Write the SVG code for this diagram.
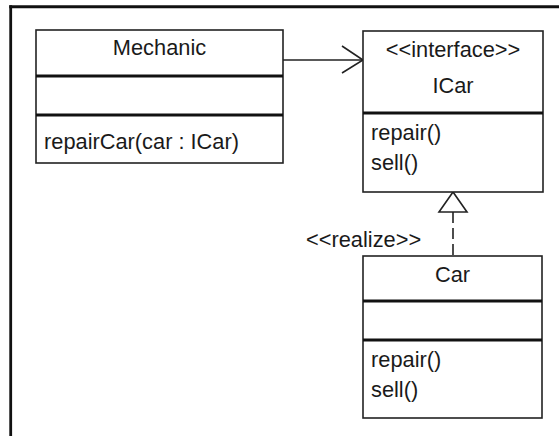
<svg xmlns="http://www.w3.org/2000/svg" width="559" height="436" viewBox="0 0 559 436">
<style>
.box{fill:#fff;stroke:#222;stroke-width:1.6}
.div{stroke:#111;stroke-width:3}
.t{font-family:"Liberation Sans",Arial,sans-serif;font-size:21.8px;fill:#1a1a1a}
.c{text-anchor:middle}
.conn{fill:none;stroke:#222;stroke-width:1.6}
</style>
<rect width="559" height="436" fill="#fff"/>
<g id="frame">
<line x1="9.3" y1="6.7" x2="559" y2="6.7" stroke="#111" stroke-width="3"/>
<line x1="10.7" y1="5.2" x2="10.7" y2="436" stroke="#111" stroke-width="2.8"/>
</g>
<g id="connectors">
<line class="conn" x1="283" y1="60" x2="362" y2="60"/>
<polyline class="conn" points="342,46 363,60 342,73"/>
<line class="conn" x1="453" y1="212" x2="453" y2="256" stroke-dasharray="11 5" stroke-width="2"/>
<polygon class="conn" points="453,192 439,212 467,212" fill="#fff"/>
<text class="t" x="306" y="247">&lt;&lt;realize&gt;&gt;</text>
</g>
<g id="mechanic">
<rect class="box" x="36" y="30" width="247" height="133"/>
<line class="div" x1="36" y1="76" x2="283" y2="76"/>
<line class="div" x1="36" y1="115" x2="283" y2="115"/>
<text class="t c" x="159.5" y="55">Mechanic</text>
<text class="t" x="44" y="149">repairCar(car : ICar)</text>
</g>
<g id="icar">
<rect class="box" x="363" y="31" width="180" height="161"/>
<line class="div" x1="363" y1="113" x2="543" y2="113"/>
<text class="t c" x="453" y="57">&lt;&lt;interface&gt;&gt;</text>
<text class="t c" x="453" y="93">ICar</text>
<text class="t" x="371" y="140">repair()</text>
<text class="t" x="371" y="170">sell()</text>
</g>
<g id="car">
<rect class="box" x="363" y="256" width="179" height="162"/>
<line class="div" x1="363" y1="301" x2="542" y2="301"/>
<line class="div" x1="363" y1="340" x2="542" y2="340"/>
<text class="t c" x="452.5" y="282">Car</text>
<text class="t" x="371" y="367">repair()</text>
<text class="t" x="371" y="397">sell()</text>
</g>
</svg>
